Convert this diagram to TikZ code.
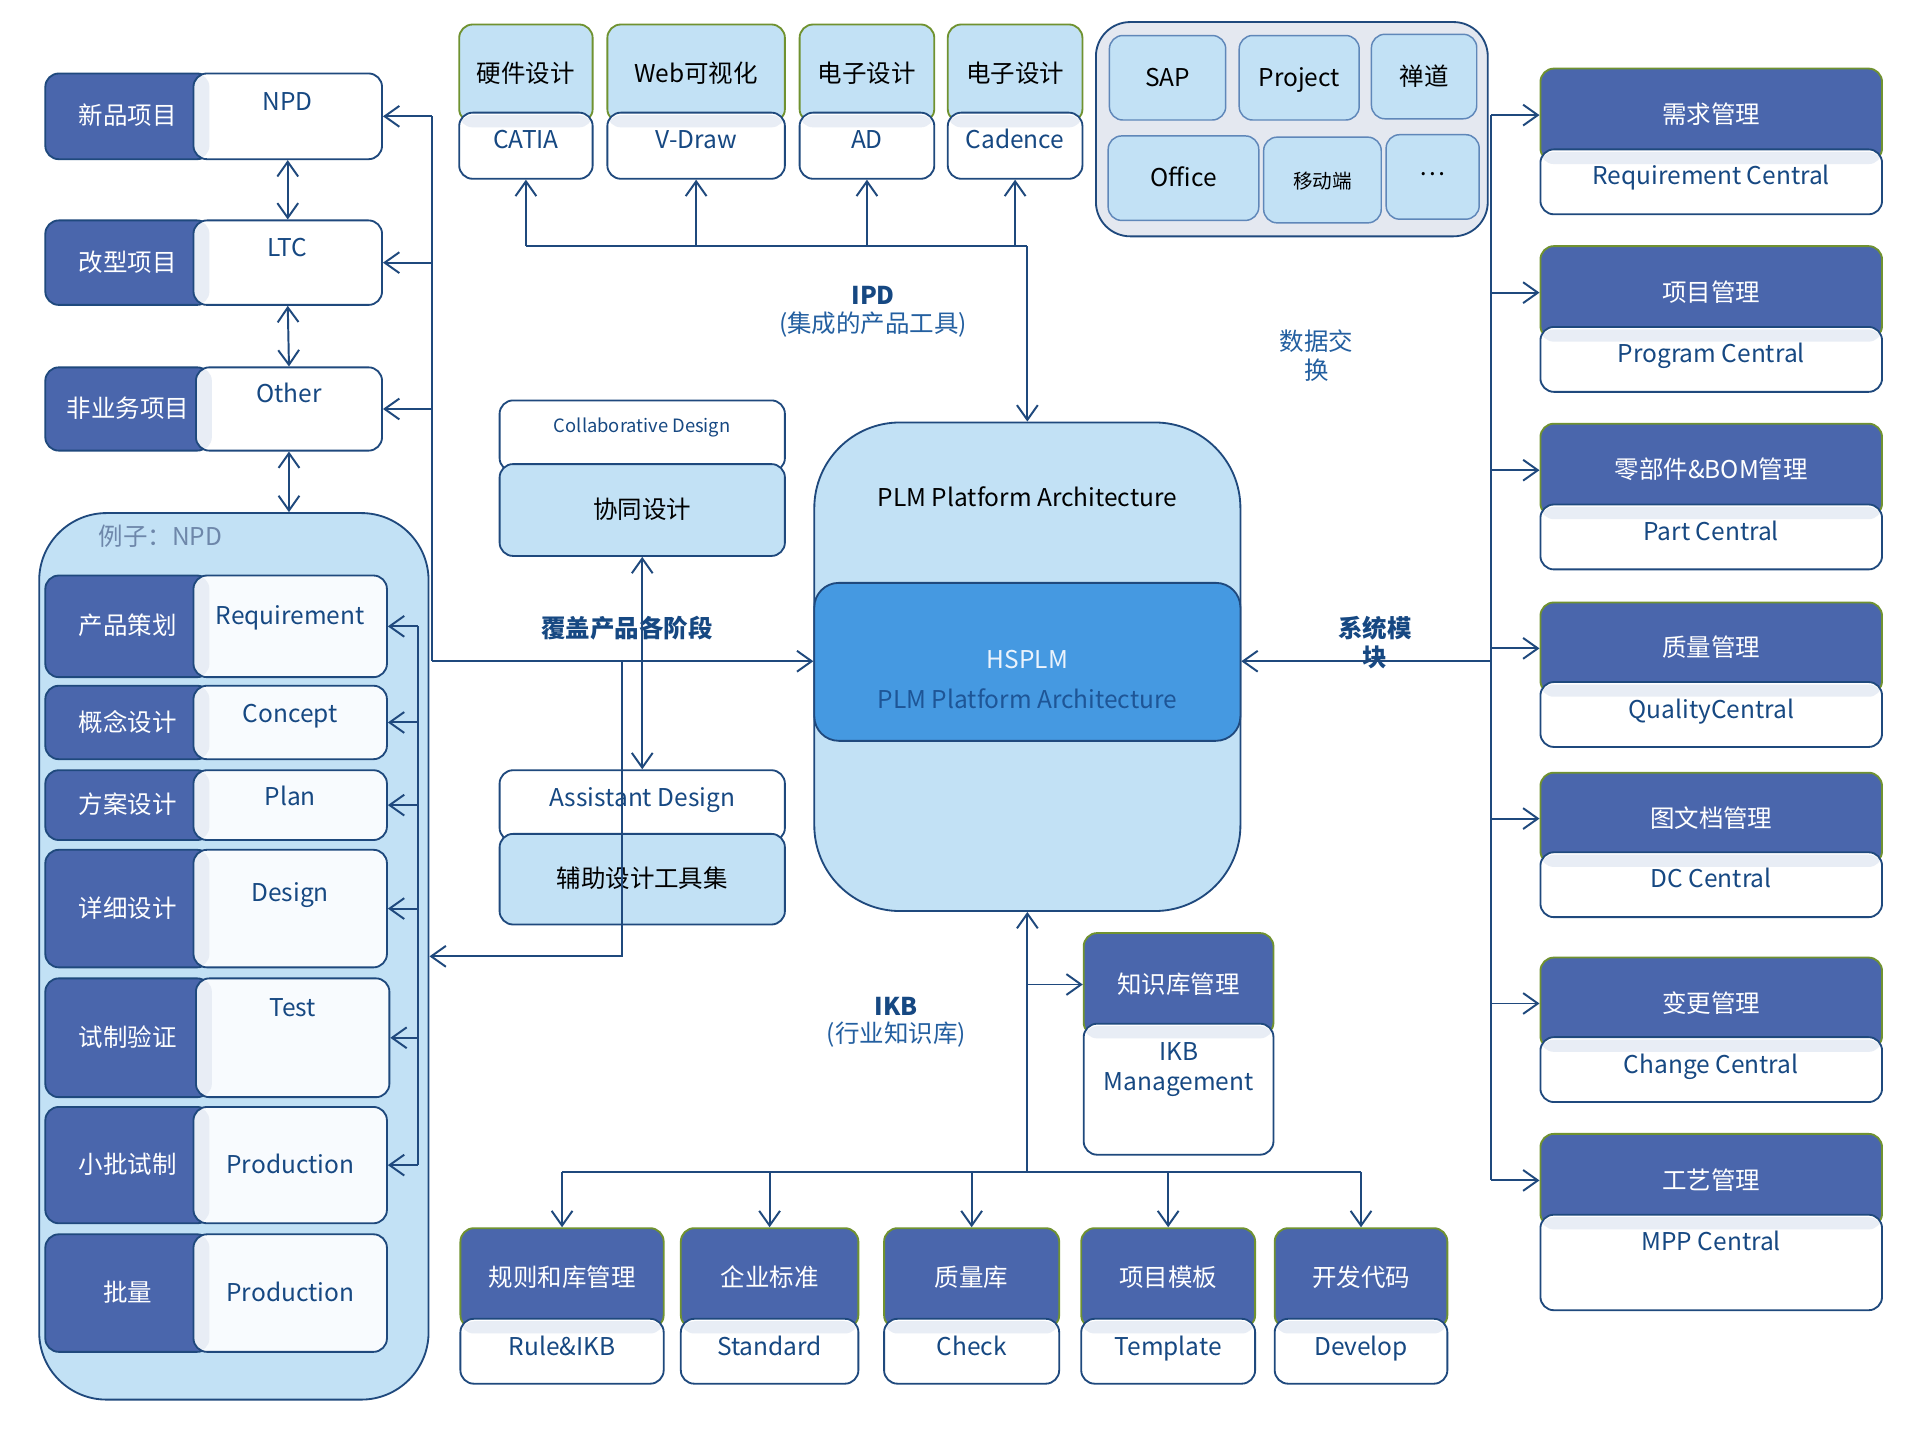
\documentclass[tikz,border=0pt]{standalone}
\usepackage{fontspec}
\setmainfont{Noto Sans CJK SC}
\usetikzlibrary{arrows.meta}

\definecolor{navy}{RGB}{31,73,125}
\definecolor{hdblue}{RGB}{74,102,172}
\definecolor{lblue}{RGB}{194,225,245}
\definecolor{leaf}{RGB}{112,146,48}
\definecolor{hsblue}{RGB}{69,153,225}
\definecolor{ink}{RGB}{22,72,130}
\definecolor{lab}{RGB}{35,95,160}
\definecolor{swgray}{RGB}{228,232,240}
\definecolor{swline}{RGB}{95,135,185}
\definecolor{titlegray}{RGB}{110,135,170}
\definecolor{stripe}{RGB}{232,237,245}
\definecolor{paper}{RGB}{248,251,254}
\definecolor{hsdark}{RGB}{30,85,150}
\definecolor{hslight}{RGB}{235,243,252}

\tikzset{
  every node/.style={font=\fontsize{20}{24}\selectfont},
  wh/.style 2 args={minimum width=#1pt, minimum height=#2pt, inner sep=0pt},
  lift/.style={text depth=#1},
  dark/.style={draw=navy, fill=hdblue, text=white, line width=1.5pt, rounded corners=11pt, text height=14pt, text depth=0pt},
  hdr/.style={dark, draw=leaf},
  wbox/.style={draw=navy, fill=white, text=ink, line width=1.5pt, rounded corners=11pt, text height=14pt, text depth=0pt},
  lbox/.style={draw=navy, fill=lblue, text=black, line width=1.5pt, rounded corners=11pt, text height=14pt, text depth=0pt},
  tool/.style={lbox, draw=leaf},
  soft/.style={lbox, draw=swline, line width=1.2pt},
  tstripe/.style={path picture={\fill[stripe] ([yshift=-2pt]path picture bounding box.north west) rectangle ([yshift=-12pt]path picture bounding box.north east);}},
  lstripe/.style={fill=paper, path picture={\fill[stripe] (path picture bounding box.north west) rectangle ([xshift=13pt]path picture bounding box.south west);}},
  link/.style={draw=navy, line width=1.6pt},
  note/.style={text=lab},
  bnote/.style={text=ink, font=\fontsize{20}{24}\selectfont\bfseries}
}

\begin{document}
\begin{tikzpicture}[x=1pt, y=-1pt, >={Straight Barb[length=12pt,width=17pt]}]
            \fill[white] (0,0) rectangle (1568,1176);
            \useasboundingbox (0,0) rectangle (1568,1176);

            % Nodes: project types
            \node[dark, wh={135}{70}] (new_d) at (104.5,95) {新品项目};
            \node[wbox, lstripe, fill=white, wh={154}{70}, lift=24pt] (npd) at (235,95) {NPD};
            \node[dark, wh={135}{69}] (mod_d) at (104.5,214.5) {改型项目};
            \node[wbox, lstripe, fill=white, wh={154}{69}, lift=24pt] (ltc) at (235,214.5) {LTC};
            \node[dark, wh={135}{68}] (oth_d) at (104.5,334) {非业务项目};
            \node[wbox, lstripe, fill=white, wh={152}{68}, lift=24pt] (other) at (236,334) {Other};

            % Nodes: NPD example
            \node[draw=navy, fill=lblue, line width=1.5pt, rounded corners=55pt, wh={318}{724}] (npdbox) at (191,781) {};
            \node[anchor=west, text=titlegray] (npd_title) at (77,438) {例子：NPD};
            \node[dark, wh={135}{83}] (s1_d) at (104.5,511.5) {产品策划};
            \node[wbox, lstripe, wh={158}{83}, lift=17pt] (s1) at (237,511.5) {Requirement};
            \node[dark, wh={135}{60}] (s2_d) at (104.5,590) {概念设计};
            \node[wbox, lstripe, wh={158}{60}, lift=14pt] (s2) at (237,590) {Concept};
            \node[dark, wh={135}{57}] (s3_d) at (104.5,657.5) {方案设计};
            \node[wbox, lstripe, wh={158}{57}, lift=13pt] (s3) at (237,657.5) {Plan};
            \node[dark, wh={135}{96}] (s4_d) at (104.5,742) {详细设计};
            \node[wbox, lstripe, wh={158}{96}, lift=26pt] (s4) at (237,742) {Design};
            \node[dark, wh={135}{97}] (s5_d) at (104.5,847.5) {试制验证};
            \node[wbox, lstripe, wh={158}{97}, lift=49pt] (s5) at (239,847.5) {Test};
            \node[dark, wh={135}{95}] (s6_d) at (104.5,951.5) {小批试制};
            \node[wbox, lstripe, wh={158}{95}] (s6) at (237,951.5) {Production};
            \node[dark, wh={135}{96}] (s7_d) at (104.5,1056) {批量};
            \node[wbox, lstripe, wh={158}{96}] (s7) at (237,1056) {Production};

            % Nodes: IPD tools
            \node[tool, wh={109}{80}] (hw) at (429.5,60) {硬件设计};
            \node[wbox, tstripe, wh={109}{54}, lift=10pt] (catia) at (429.5,119) {CATIA};
            \node[tool, wh={145}{80}] (web) at (568.5,60) {Web可视化};
            \node[wbox, tstripe, wh={145}{54}, lift=10pt] (vdraw) at (568.5,119) {V-Draw};
            \node[tool, wh={110}{80}] (ee1) at (708,60) {电子设计};
            \node[wbox, tstripe, wh={110}{54}, lift=10pt] (ad) at (708,119) {AD};
            \node[tool, wh={110}{80}] (ee2) at (829,60) {电子设计};
            \node[wbox, tstripe, wh={110}{54}, lift=10pt] (cadence) at (829,119) {Cadence};

            % Nodes: other software
            \node[draw=navy, fill=swgray, line width=1.5pt, rounded corners=28pt, wh={320}{175}] (sw) at (1055,105.5) {};
            \node[soft, wh={95}{69}] (sap) at (953.5,63.5) {SAP};
            \node[soft, wh={98}{69}] (project) at (1061,63.5) {Project};
            \node[soft, wh={86}{69}] (zentao) at (1163,62.5) {禅道};
            \node[soft, wh={123}{69}] (office) at (966.5,145.5) {Office};
            \node[soft, wh={96}{70}, font=\fontsize{16}{19}\selectfont] (mobile) at (1080,147) {移动端};
            \node[soft, wh={76}{69}, lift=16pt] (more) at (1170,144.5) {…};

            % Nodes: design aids
            \node[wbox, wh={233}{58}, font=\fontsize{15}{18}\selectfont, lift=20pt] (collab) at (524.5,356) {Collaborative Design};
            \node[lbox, wh={233}{75}] (collab_cn) at (524.5,416.5) {协同设计};
            \node[wbox, wh={233}{58}, lift=12pt] (assist) at (524.5,658) {Assistant Design};
            \node[lbox, wh={233}{74}] (assist_cn) at (524.5,718) {辅助设计工具集};

            % Nodes: platform
            \node[draw=navy, fill=lblue, line width=1.5pt, rounded corners=70pt, wh={348}{399}] (plm) at (839,544.5) {};
            \node (plm_t) at (839,406) {PLM Platform Architecture};
            \node[draw=navy, fill=hsblue, line width=1.5pt, rounded corners=20pt, wh={348}{129}] (hsplm) at (839,540.5) {};
            \node[text=hslight] (hs_t) at (839,539) {HSPLM};
            \node[text=hsdark] (hs_t2) at (839,571) {PLM Platform Architecture};

            % Nodes: knowledge base
            \node[hdr, wh={155}{84}] (kb) at (962.5,804) {知识库管理};
            \node[wbox, tstripe, wh={155}{107}] (kb_b) at (962.5,889.5) {};
            \node[text=ink, align=center] (kb_t) at (962.5,873.5) {IKB\\Management};
            \node[hdr, wh={166}{82}] (rule) at (459,1044) {规则和库管理};
            \node[wbox, tstripe, wh={166}{53}, lift=7pt] (rule_b) at (459,1103.5) {Rule\&IKB};
            \node[hdr, wh={145}{82}] (std) at (628.5,1044) {企业标准};
            \node[wbox, tstripe, wh={145}{53}, lift=7pt] (std_b) at (628.5,1103.5) {Standard};
            \node[hdr, wh={143}{82}] (chk) at (793.5,1044) {质量库};
            \node[wbox, tstripe, wh={143}{53}, lift=7pt] (chk_b) at (793.5,1103.5) {Check};
            \node[hdr, wh={142}{82}] (tpl) at (954,1044) {项目模板};
            \node[wbox, tstripe, wh={142}{53}, lift=7pt] (tpl_b) at (954,1103.5) {Template};
            \node[hdr, wh={141}{82}] (dev) at (1111.5,1044) {开发代码};
            \node[wbox, tstripe, wh={141}{53}, lift=7pt] (dev_b) at (1111.5,1103.5) {Develop};

            % Nodes: system modules
            \node[hdr, wh={279}{76}] (req) at (1397.5,94) {需求管理};
            \node[wbox, tstripe, wh={279}{53}, lift=9pt] (req_b) at (1397.5,148.5) {Requirement Central};
            \node[hdr, wh={279}{76}] (prog) at (1397.5,239) {项目管理};
            \node[wbox, tstripe, wh={279}{53}, lift=9pt] (prog_b) at (1397.5,293.5) {Program Central};
            \node[hdr, wh={279}{76}] (part) at (1397.5,384) {零部件\&BOM管理};
            \node[wbox, tstripe, wh={279}{53}, lift=9pt] (part_b) at (1397.5,438.5) {Part Central};
            \node[hdr, wh={279}{75}] (qual) at (1397.5,529.5) {质量管理};
            \node[wbox, tstripe, wh={279}{53}, lift=7pt] (qual_b) at (1397.5,583.5) {QualityCentral};
            \node[hdr, wh={279}{75}] (dc) at (1397.5,668.5) {图文档管理};
            \node[wbox, tstripe, wh={279}{53}, lift=9pt] (dc_b) at (1397.5,722.5) {DC Central};
            \node[hdr, wh={279}{75}] (chg) at (1397.5,819.5) {变更管理};
            \node[wbox, tstripe, wh={279}{53}, lift=7pt] (chg_b) at (1397.5,873.5) {Change Central};
            \node[hdr, wh={279}{76}] (mpp) at (1397.5,964) {工艺管理};
            \node[wbox, tstripe, wh={279}{78}, lift=34pt] (mpp_b) at (1397.5,1031) {MPP Central};

            % Labels
            \node[bnote] (ipd) at (713,241) {IPD};
            \node[note] (ipd_sub) at (713,265) {(集成的产品工具)};
            \node[note, align=center] (exch) at (1075,290.5) {数据交\\换};
            \node[bnote] (cover) at (512,513) {覆盖产品各阶段};
            \node[bnote, align=center] (sysmod) at (1123,525) {系统模\\块};
            \node[bnote] (ikb) at (732,822) {IKB};
            \node[note] (ikb_sub) at (732,845) {(行业知识库)};

            % Arrows: project types
            \draw[<->, link] (npd.south) -- (ltc.north);
            \draw[<->, link] (ltc.south) -- (other.north);
            \draw[<->, link] (other.south) -- (other.south |- npdbox.north);
            \coordinate (lbus) at (353,540);
            \draw[link] (lbus) -- (lbus |- npd.east);
            \draw[->, link] (lbus |- npd.east) -- (npd.east);
            \draw[->, link] (lbus |- ltc.east) -- (ltc.east);
            \draw[->, link] (lbus |- other.east) -- (other.east);
            \draw[->, link] (lbus) -- (lbus -| hsplm.west);

            % Arrows: stages
            \coordinate (sbus) at (341,511.5);
            \draw[link] (sbus) -- (sbus |- s6.east);
            \draw[->, link] (sbus |- s1.east) -- (s1.east);
            \draw[->, link] (sbus |- s2.east) -- (s2.east);
            \draw[->, link] (sbus |- s3.east) -- (s3.east);
            \draw[->, link] (sbus |- s4.east) -- (s4.east);
            \draw[->, link] (sbus |- s5.east) -- (s5.east);
            \draw[->, link] (sbus |- s6.east) -- (s6.east);
            \coordinate (abus) at (508,540);
            \coordinate (aturn) at (508,781);
            \draw[->, link] (abus) -- (aturn) -- (aturn -| npdbox.east);
            \draw[<->, link] (collab_cn.south) -- (assist.north);

            % Arrows: IPD tools
            \coordinate (tbus) at (839,201);
            \draw[link] (tbus) -- (tbus -| catia.south);
            \draw[->, link] (tbus -| catia.south) -- (catia.south);
            \draw[->, link] (tbus -| vdraw.south) -- (vdraw.south);
            \draw[->, link] (tbus -| ad.south) -- (ad.south);
            \draw[->, link] (tbus -| cadence.south) -- (cadence.south);
            \draw[->, link] (tbus) -- (plm.north);

            % Arrows: system modules
            \coordinate (rbus) at (1218,540);
            \draw[link] (rbus |- req.west) -- (rbus |- mpp.west);
            \draw[->, link] (rbus |- req.west) -- (req.west);
            \draw[->, link] (rbus |- prog.west) -- (prog.west);
            \draw[->, link] (rbus |- part.west) -- (part.west);
            \draw[->, link] (rbus |- qual.west) -- (qual.west);
            \draw[->, link] (rbus |- dc.west) -- (dc.west);
            \draw[->, link] (rbus |- chg.west) -- (chg.west);
            \draw[->, link] (rbus |- mpp.west) -- (mpp.west);
            \draw[->, link] (rbus) -- (rbus -| hsplm.east);

            % Arrows: knowledge base
            \coordinate (kbus) at (839,957);
            \draw[->, link] (kbus) -- (plm.south);
            \draw[->, link] (kbus |- kb.west) -- (kb.west);
            \draw[link] (kbus -| rule.north) -- (kbus -| dev.north);
            \draw[->, link] (kbus -| rule.north) -- (rule.north);
            \draw[->, link] (kbus -| std.north) -- (std.north);
            \draw[->, link] (kbus -| chk.north) -- (chk.north);
            \draw[->, link] (kbus -| tpl.north) -- (tpl.north);
            \draw[->, link] (kbus -| dev.north) -- (dev.north);
        \end{tikzpicture}
\end{document}
